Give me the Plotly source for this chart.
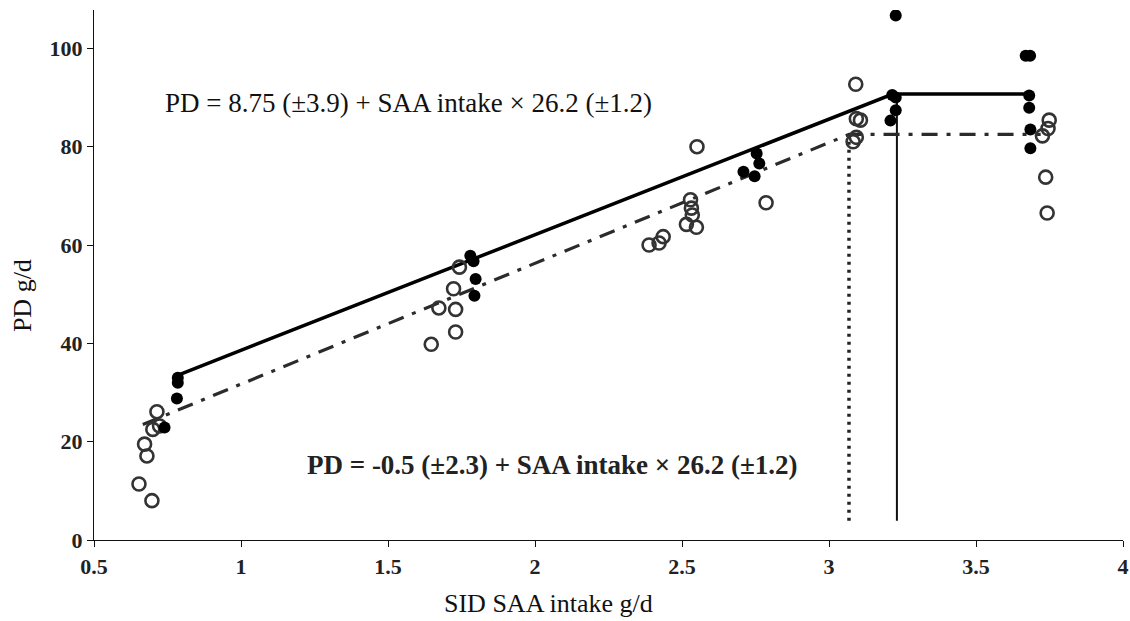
import plotly.graph_objects as go

# Open circles (one treatment group)
open_x = [0.714, 0.700, 0.723, 0.672, 0.680, 0.653, 0.697,
          1.743, 1.723, 1.673, 1.730, 1.730, 1.647,
          2.551, 2.786, 2.529, 2.532, 2.535, 2.515, 2.549, 2.436, 2.422, 2.388,
          3.091, 3.093, 3.107, 3.093, 3.082,
          3.749, 3.745, 3.726, 3.737, 3.742]
open_y = [26.1, 22.5, 23.2, 19.5, 17.1, 11.4, 8.0,
          55.5, 51.1, 47.2, 46.9, 42.3, 39.8,
          80.0, 68.6, 69.2, 67.5, 66.1, 64.2, 63.6, 61.7, 60.4, 60.0,
          92.7, 85.7, 85.4, 81.9, 81.0,
          85.4, 83.7, 82.2, 73.8, 66.5]

# Filled circles (other treatment group)
fill_x = [0.785, 0.785, 0.782, 0.740,
          1.780, 1.791, 1.798, 1.794,
          2.754, 2.763, 2.709, 2.747,
          3.227, 3.215, 3.227, 3.227, 3.209,
          3.669, 3.684, 3.681, 3.681, 3.685, 3.685]
fill_y = [33.0, 32.0, 28.8, 22.9,
          57.8, 56.7, 53.1, 49.7,
          78.6, 76.6, 74.9, 74.0,
          106.7, 90.5, 90.0, 87.4, 85.3,
          98.5, 98.5, 90.4, 87.9, 83.5, 79.7]

# Broken-line fits
solid_fit_x = [0.784, 3.217, 3.68]
solid_fit_y = [33.5, 90.7, 90.7]
dash_fit_x = [0.666, 3.068, 3.72]
dash_fit_y = [23.5, 82.5, 82.5]

# Breakpoint markers (vertical lines)
break_solid_x = [3.231, 3.231]
break_solid_y = [3.9, 90.7]
break_dash_x = [3.068, 3.068]
break_dash_y = [3.9, 82.5]

x_ticks = [0.5, 1, 1.5, 2, 2.5, 3, 3.5, 4]
x_tick_text = ["0.5", "1", "1.5", "2", "2.5", "3", "3.5", "4"]
y_ticks = [0, 20, 40, 60, 80, 100]

eq_top = "PD = 8.75 (±3.9) + SAA intake × 26.2 (±1.2)"
eq_bottom = "<b>PD = -0.5 (±2.3) + SAA intake × 26.2 (±1.2)</b>"

SERIF = "Liberation Serif, Times New Roman, serif"

fig = go.Figure()

fig.add_trace(go.Scatter(x=break_dash_x, y=break_dash_y, mode="lines",
                         line=dict(color="#222", width=3.5, dash="3px,5px"),
                         showlegend=False, hoverinfo="skip"))
fig.add_trace(go.Scatter(x=break_solid_x, y=break_solid_y, mode="lines",
                         line=dict(color="#111", width=2),
                         showlegend=False, hoverinfo="skip"))
fig.add_trace(go.Scatter(x=dash_fit_x, y=dash_fit_y, mode="lines",
                         line=dict(color="#2b2b2b", width=3.2, dash="16px,9px,4px,9px"),
                         showlegend=False, hoverinfo="skip"))
fig.add_trace(go.Scatter(x=solid_fit_x, y=solid_fit_y, mode="lines",
                         line=dict(color="#000", width=3.5),
                         showlegend=False, hoverinfo="skip"))
fig.add_trace(go.Scatter(x=open_x, y=open_y, mode="markers",
                         marker=dict(symbol="circle-open", size=13, color="#333",
                                     line=dict(width=2.6, color="#333")),
                         showlegend=False))
fig.add_trace(go.Scatter(x=fill_x, y=fill_y, mode="markers",
                         marker=dict(symbol="circle", size=12, color="#000",
                                     line=dict(width=0)),
                         showlegend=False))

fig.add_annotation(x=0.734, y=88.8, xref="x", yref="y", text=eq_top,
                   showarrow=False, xanchor="left", yanchor="middle",
                   font=dict(family=SERIF, size=27, color="#111"))
fig.add_annotation(x=1.217, y=15.2, xref="x", yref="y", text=eq_bottom,
                   showarrow=False, xanchor="left", yanchor="middle",
                   font=dict(family=SERIF, size=27, color="#222"))

fig.add_annotation(x=0.442, y=-0.119, xref="paper", yref="paper",
                   text="SID SAA intake g/d", showarrow=False,
                   xanchor="center", yanchor="middle",
                   font=dict(family=SERIF, size=26, color="#111"))
fig.add_annotation(x=-0.070, y=0.462, xref="paper", yref="paper",
                   text="PD g/d", showarrow=False, textangle=-90,
                   xanchor="center", yanchor="middle",
                   font=dict(family=SERIF, size=26, color="#111"))

fig.update_layout(
    width=1130, height=621,
    margin=dict(l=94, r=7, t=10, b=81, autoexpand=False),
    paper_bgcolor="white", plot_bgcolor="white",
    showlegend=False,
)
fig.update_xaxes(range=[0.5, 4], tickvals=x_ticks, ticktext=x_tick_text,
                 showgrid=False, zeroline=False, showline=True,
                 linecolor="#111", linewidth=1.3, ticks="outside", ticklen=6,
                 tickcolor="#111", tickwidth=1.3,
                 tickfont=dict(family=SERIF, size=22, color="#222", weight="bold"))
fig.update_yaxes(range=[0, 107.8], tickvals=y_ticks,
                 showgrid=False, zeroline=False, showline=True,
                 linecolor="#111", linewidth=1.3, ticks="outside", ticklen=6,
                 tickcolor="#111", tickwidth=1.3,
                 tickfont=dict(family=SERIF, size=22, color="#222", weight="bold"))

fig.write_html("out.html", config={"displayModeBar": False},
               post_script="document.body.style.margin='0';")
